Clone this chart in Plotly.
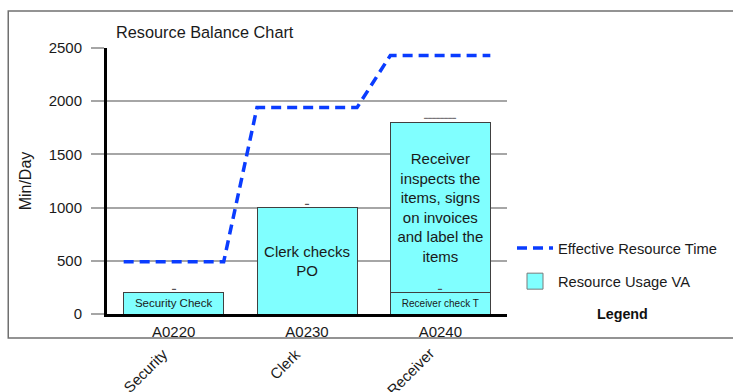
import plotly.graph_objects as go

# ---------------- data ----------------
categories = ["A0220", "A0230", "A0240"]
roles = ["Security", "Clerk", "Receiver"]
usage_base = [200, 1000, 200]
usage_base_text = ["Security Check", "Clerk checks<br>PO", "Receiver check T"]
usage_top = [0, 0, 1600]
usage_top_text = ["", "", "Receiver<br>inspects the<br>items, signs<br>on invoices<br>and label the<br>items"]
effective_time = [490, 1940, 2430]
y_ticks = [0, 500, 1000, 1500, 2000, 2500]

# ---------------- style / layout ----------------
W, H = 733, 392
ML, MR, MT, MB = 107, 225, 48, 78
PW, PH = W - ML - MR, H - MT - MB
BAR_W = 0.75
FONT = "Liberation Sans, Arial, sans-serif"
CYAN = "#80FFFF"
BLUE = "#0A3CFF"
GRID = "#A6A6A6"


def px_x(px):
    return (px - ML) / PW


def px_y(py):
    return (H - MB - py) / PH


xpos = list(range(len(categories)))
line_x, line_y = [], []
for i, v in zip(xpos, effective_time):
    line_x += [i - BAR_W / 2, i + BAR_W / 2]
    line_y += [v, v]

fig = go.Figure()

fig.add_trace(go.Bar(
    x=xpos, y=usage_base, width=BAR_W,
    marker=dict(color=CYAN, line=dict(color="#404040", width=1)),
    text=usage_base_text, textposition="inside", insidetextanchor="middle",
    textangle=0, constraintext="none",
    textfont=dict(family=FONT, size=[11.5, 15, 10], color="#1a1a1a"),
    showlegend=False, hoverinfo="skip",
))
fig.add_trace(go.Bar(
    x=xpos, y=usage_top, width=BAR_W,
    marker=dict(color=CYAN, line=dict(color="#404040", width=1)),
    text=usage_top_text, textposition="inside", insidetextanchor="middle",
    textangle=0, constraintext="none",
    textfont=dict(family=FONT, size=15, color="#1a1a1a"),
    showlegend=False, hoverinfo="skip",
))

fig.add_trace(go.Scatter(
    x=line_x, y=line_y, mode="lines",
    line=dict(color=BLUE, width=3.5, dash="10px,6px"),
    name="Effective Resource Time", legendgroup="a", hoverinfo="skip",
))
# legend entry for the bars
fig.add_trace(go.Scatter(
    x=[None], y=[None], mode="markers",
    marker=dict(symbol="square", size=16, color=CYAN, line=dict(color="#7a7a7a", width=1)),
    name="Resource Usage VA", legendgroup="b",
))

# tiny marks above bar segments
totals = [b + t for b, t in zip(usage_base, usage_top)]
annotations = []
for i, (b, tot) in enumerate(zip(usage_base, totals)):
    annotations.append(dict(x=i, y=b, xref="x", yref="y", text="▬", showarrow=False,
                            yanchor="bottom", font=dict(size=4, color="#555")))
    if tot != b:
        annotations.append(dict(x=i, y=tot, xref="x", yref="y", text="▬▬▬▬▬▬▬▬", showarrow=False,
                                yanchor="bottom", font=dict(size=4, color="#777")))

# rotated role labels
for i, r in enumerate(roles):
    annotations.append(dict(x=i, y=px_y(342), xref="x", yref="paper", text=r, textangle=-45,
                            showarrow=False, xanchor="right", yanchor="top", xshift=0,
                            font=dict(family=FONT, size=15, color="#1a1a1a")))

annotations.append(dict(x=px_x(624), y=px_y(314), xref="paper", yref="paper", text="<b>Legend</b>",
                        showarrow=False, xanchor="center", yanchor="middle",
                        font=dict(family=FONT, size=14.3, color="#111")))

shapes = [dict(type="rect", xref="paper", yref="paper",
               x0=px_x(8), x1=px_x(745), y0=px_y(338), y1=px_y(11),
               line=dict(color="#707070", width=1.5), fillcolor="rgba(0,0,0,0)", layer="above")]

fig.update_layout(
    width=W, height=H,
    margin=dict(l=ML, r=MR, t=MT, b=MB),
    paper_bgcolor="white", plot_bgcolor="white",
    barmode="stack",
    font=dict(family=FONT, size=15, color="#1a1a1a"),
    title=dict(text="Resource Balance Chart", x=116 / W, xanchor="left", xref="container",
               y=1 - 32 / H, yanchor="middle", yref="container",
               font=dict(family=FONT, size=16.3, color="#1a1a1a")),
    xaxis=dict(range=[-0.5, len(categories) - 0.5], tickvals=xpos, ticktext=categories,
               showline=True, linecolor="black", linewidth=3, showgrid=False, zeroline=False,
               ticks="", tickfont=dict(size=15), ticklabelstandoff=2, fixedrange=True),
    yaxis=dict(range=[0, 2500], tickvals=y_ticks, showline=True, linecolor="black", linewidth=3,
               showgrid=True, gridcolor=GRID, gridwidth=1.5, zeroline=False,
               ticks="outside", ticklen=13, tickcolor=GRID, tickwidth=1.5,
               ticklabelstandoff=6, tickfont=dict(size=15),
               title=dict(text="Min/Day", font=dict(size=16), standoff=14)),
    legend=dict(x=px_x(512), y=px_y(232), xanchor="left", yanchor="top",
                font=dict(family=FONT, size=14.7, color="#1a1a1a"),
                tracegroupgap=11, bgcolor="rgba(0,0,0,0)", itemwidth=36),
    annotations=annotations,
    shapes=shapes,
)

fig.write_html("out.html")
